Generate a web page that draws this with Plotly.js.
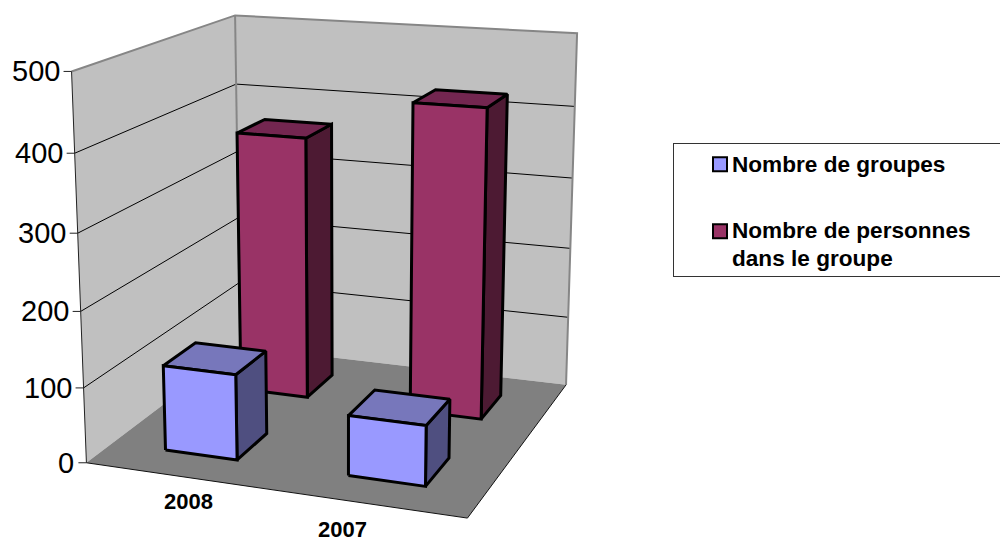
<!DOCTYPE html>
<html><head><meta charset="utf-8">
<script src="https://cdn.plot.ly/plotly-3.0.1.min.js"></script>
<style>html,body{margin:0;padding:0;background:#fff}#chart{width:1000px;height:541px}</style>
</head><body><div id="chart"></div>
<script>
const categories = ['2008', '2007'];
const seriesNames = ['Nombre de groupes', 'Nombre de personnes<br>dans le groupe'];
const groupes = [114, 79];
const personnes = [367, 425];
const tickValues = [0, 100, 200, 300, 400, 500];

const FONT = 'Liberation Sans, Arial, sans-serif';
const colors = [
  {front: '#9999ff', top: '#7777bb', side: '#4f4f80'},
  {front: '#993366', top: '#732650', side: '#4d1a33'}
];

// camera calibration of the 3D frame: [x (0-1 width), y (0-1 depth), z (0-500)] -> page pixel
const frame = [
  [0,0,0,86,463],[1,0,0,467,518],[1,1,0,567,385],[0,1,0,240,346],
  [0,0,500,71,71],[0,1,500,235,15],[1,1,500,578,33],
  [1,1,400,574,107],[1,1,300,572,178],[1,1,100,568,317],
  [0,0,400,76,153],[0,0,300,77,233],[0,0,200,81,312],[0,0,100,84,388],[0,1,400,236,85]
];
function solve(A, b) {
  const n = b.length, M = A.map((r, i) => r.concat([b[i]]));
  for (let i = 0; i < n; i++) {
    let p = i;
    for (let k = i + 1; k < n; k++) if (Math.abs(M[k][i]) > Math.abs(M[p][i])) p = k;
    [M[i], M[p]] = [M[p], M[i]];
    for (let k = i + 1; k < n; k++) {
      const f = M[k][i] / M[i][i];
      for (let j = i; j <= n; j++) M[k][j] -= f * M[i][j];
    }
  }
  const s = new Array(n).fill(0);
  for (let i = n - 1; i >= 0; i--) {
    let t = M[i][n];
    for (let j = i + 1; j < n; j++) t -= M[i][j] * s[j];
    s[i] = t / M[i][i];
  }
  return s;
}
const P = (function () {
  const rows = [], rhs = [];
  frame.forEach(([x, y, z, u, v]) => {
    const w = z / 500, us = u / 500, vs = v / 500;
    rows.push([x, y, w, 1, 0, 0, 0, 0, -us * x, -us * y, -us * w]); rhs.push(us);
    rows.push([0, 0, 0, 0, x, y, w, 1, -vs * x, -vs * y, -vs * w]); rhs.push(vs);
  });
  const N = 11, A = [], b = [];
  for (let i = 0; i < N; i++) {
    A.push(new Array(N).fill(0)); b.push(0);
    rows.forEach((r, k) => {
      for (let j = 0; j < N; j++) A[i][j] += r[i] * r[j];
      b[i] += r[i] * rhs[k];
    });
  }
  return solve(A, b);
})();
function project(x, y, z) {
  const w = z / 500, d = P[8] * x + P[9] * y + P[10] * w + 1;
  return [500 * (P[0] * x + P[1] * y + P[2] * w + P[3]) / d,
          500 * (P[4] * x + P[5] * y + P[6] * w + P[7]) / d];
}

const traces = [];
function poly(pts, fill, lineColor, lineWidth, closed) {
  const xy = pts.map(p => project(p[0], p[1], p[2]));
  if (closed) xy.push(xy[0]);
  traces.push({
    type: 'scatter', mode: 'lines', x: xy.map(p => p[0]), y: xy.map(p => p[1]),
    fill: fill ? 'toself' : 'none', fillcolor: fill || undefined,
    line: {color: lineColor || fill, width: lineWidth === undefined ? 0 : lineWidth, simplify: false},
    showlegend: false, hoverinfo: 'skip'
  });
}

// walls and floor
poly([[0,1,0],[1,1,0],[1,1,500],[0,1,500]], '#c0c0c0', '#c0c0c0', 0, true);
poly([[0,0,0],[0,1,0],[0,1,500],[0,0,500]], '#c0c0c0', '#c0c0c0', 0, true);
poly([[0,0,0],[1,0,0],[1,1,0],[0,1,0]], '#808080', '#808080', 0, true);

tickValues.slice(1, 5).forEach(v => {
  poly([[0,0,v],[0,1,v]], null, '#000', 1);
  poly([[0,1,v],[1,1,v]], null, '#000', 1);
});
poly([[0,0,500],[0,1,500],[1,1,500],[1,1,0]], null, '#868686', 2);
poly([[0,1,500],[0,1,0]], null, '#868686', 2);
poly([[0,0,500],[0,0,0]], null, '#222', 1);
poly([[0,0,0],[1,0,0],[1,1,0]], null, '#111', 1);

// tick marks
tickValues.forEach(v => {
  const a = project(0, 0, v);
  traces.push({type: 'scatter', mode: 'lines', x: [a[0] - 8, a[0]], y: [a[1], a[1]],
    line: {color: '#222', width: 1}, showlegend: false, hoverinfo: 'skip'});
});

// bars
const W = 0.20, D = 0.20;
function bar(cat, ser, value) {
  const xc = (cat + 0.5) / categories.length;
  const yc = (ser + 0.5) / seriesNames.length;
  const x0 = xc - W / 2, x1 = xc + W / 2, y0 = yc - D / 2, y1 = yc + D / 2, c = colors[ser];
  poly([[x1,y0,0],[x1,y1,0],[x1,y1,value],[x1,y0,value]], c.side, '#000', 3, true);
  poly([[x0,y0,value],[x1,y0,value],[x1,y1,value],[x0,y1,value]], c.top, '#000', 3, true);
  poly([[x0,y0,0],[x1,y0,0],[x1,y0,value],[x0,y0,value]], c.front, '#000', 3, true);
}
[personnes, groupes].forEach((vals, i) => {
  const ser = 1 - i;
  vals.forEach((v, cat) => bar(cat, ser, v));
});

// legend entries
seriesNames.forEach((name, i) => {
  traces.push({type: 'scatter', mode: 'markers', x: [null], y: [null], name: name,
    legendgroup: 'g' + i,
    marker: {symbol: 'square', size: 14, color: colors[i].front, line: {color: '#000', width: 2}},
    hoverinfo: 'skip'});
});

const annotations = tickValues.map(v => {
  const a = project(0, 0, v);
  return {x: a[0] - 11, y: a[1], xref: 'x', yref: 'y', text: String(v), showarrow: false,
    xanchor: 'right', yanchor: 'middle', font: {family: FONT, size: 29, color: '#000'}, borderpad: 0};
});
const catPos = [[188, 501], [342, 529]];
categories.forEach((c, i) => annotations.push({x: catPos[i][0], y: catPos[i][1], xref: 'x', yref: 'y',
  text: '<b>' + c + '</b>', showarrow: false, xanchor: 'center', yanchor: 'middle',
  font: {family: FONT, size: 22, color: '#000'}, borderpad: 0}));

const LEGEND_FONT_SIZE = 22.6;
const layout = {
  width: 1000, height: 541, margin: {l: 0, r: 0, t: 0, b: 0, pad: 0, autoexpand: false},
  paper_bgcolor: '#fff', plot_bgcolor: '#fff', hovermode: false,
  xaxis: {range: [0, 1000], visible: false, fixedrange: true},
  yaxis: {range: [541, 0], visible: false, fixedrange: true},
  showlegend: true,
  legend: {x: 0.673, y: 1 - 143 / 541, xanchor: 'left', yanchor: 'top', bgcolor: '#fff',
    bordercolor: '#333', borderwidth: 1, tracegroupgap: 32, indentation: 18,
    font: {family: FONT, size: LEGEND_FONT_SIZE, color: '#000', weight: 'bold'}},
  annotations: annotations
};
Plotly.newPlot('chart', traces, layout, {displayModeBar: false, staticPlot: true}).then(gd => {
  // the reference legend frame runs off the right edge of the page; its swatches sit by the first text line
  const bg = gd.querySelector('.legend rect.bg');
  if (bg) { bg.setAttribute('width', 345); bg.setAttribute('height', 133); }
  const swatchLift = [-1, -13];
  gd.querySelectorAll('.legend .legendsymbols').forEach((s, i) =>
    s.setAttribute('transform', 'translate(8,' + swatchLift[i] + ')'));
  const texts = gd.querySelectorAll('.legend text.legendtext');
  if (texts[0]) texts[0].setAttribute('transform', 'translate(0,-2)');
  if (texts[1]) {
    const lines = texts[1].querySelectorAll('tspan.line');
    if (lines[1]) {
      const y = parseFloat(lines[1].getAttribute('y'));
      if (!isNaN(y)) lines[1].setAttribute('y', y - 2);
      else lines[1].setAttribute('dy', (LEGEND_FONT_SIZE * 1.3 - 2) + 'px');
    }
  }
});
</script></body></html>
